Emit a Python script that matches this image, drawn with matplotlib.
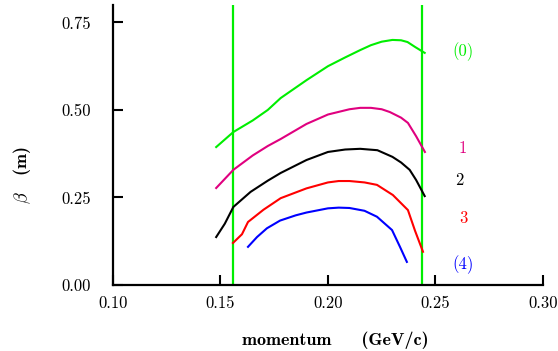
import matplotlib
matplotlib.use("Agg")
import matplotlib.pyplot as plt

plt.rcParams["font.family"] = ["cmr10", "DejaVu Serif"]
plt.rcParams["mathtext.fontset"] = "cm"
plt.rcParams["axes.formatter.use_mathtext"] = True

# beta functions vs momentum
p0 = [0.148, 0.156, 0.165, 0.172, 0.178, 0.190, 0.200, 0.208, 0.215, 0.220, 0.225, 0.230, 0.234, 0.237, 0.2405, 0.245]
b0 = [0.394, 0.437, 0.470, 0.500, 0.534, 0.585, 0.625, 0.650, 0.671, 0.685, 0.695, 0.700, 0.699, 0.694, 0.680, 0.663]

p1 = [0.148, 0.156, 0.165, 0.172, 0.178, 0.190, 0.200, 0.210, 0.215, 0.220, 0.225, 0.2288, 0.2340, 0.2372, 0.2410, 0.2451]
b1 = [0.277, 0.329, 0.370, 0.397, 0.417, 0.460, 0.487, 0.502, 0.506, 0.506, 0.502, 0.494, 0.478, 0.463, 0.425, 0.380]

p2 = [0.148, 0.152, 0.156, 0.164, 0.172, 0.178, 0.190, 0.200, 0.208, 0.215, 0.223, 0.230, 0.234, 0.238, 0.241, 0.245]
b2 = [0.137, 0.175, 0.223, 0.266, 0.298, 0.320, 0.357, 0.380, 0.387, 0.389, 0.385, 0.366, 0.350, 0.329, 0.300, 0.254]

p3 = [0.1558, 0.1600, 0.1628, 0.170, 0.178, 0.190, 0.200, 0.205, 0.210, 0.2170, 0.2228, 0.2302, 0.2372, 0.2405, 0.2442]
b3 = [0.120, 0.145, 0.180, 0.215, 0.248, 0.276, 0.293, 0.297, 0.297, 0.293, 0.286, 0.257, 0.214, 0.155, 0.095]

p4 = [0.1628, 0.1670, 0.1716, 0.1777, 0.185, 0.190, 0.200, 0.205, 0.210, 0.2170, 0.2228, 0.2298, 0.2335, 0.2367]
b4 = [0.109, 0.137, 0.162, 0.184, 0.199, 0.207, 0.219, 0.221, 0.220, 0.212, 0.195, 0.157, 0.109, 0.066]

momenta = [p0, p1, p2, p3, p4]
betas = [b0, b1, b2, b3, b4]
colors = ["#00ee00", "#e0007f", "black", "red", "blue"]
labels = ["(0)", "1", "2", "3", "(4)"]
label_pos = [(0.2628, 0.666), (0.2628, 0.391), (0.2610, 0.300), (0.2628, 0.191), (0.2628, 0.057)]

acceptance = [0.1558, 0.2437]

fig = plt.figure(figsize=(5.58, 3.51), dpi=100)
ax = fig.add_axes([0.2025, 0.188, 0.7705, 0.798])

for x in acceptance:
    ax.axvline(x, color="#00ee00", lw=1.6)

for p, b, c in zip(momenta, betas, colors):
    ax.plot(p, b, color=c, lw=1.5)

for (x, y), t, c in zip(label_pos, labels, colors):
    ax.text(x, y, t, color=c, fontsize=12, ha="center", va="center")

ax.set_xlim(0.10, 0.30)
ax.set_ylim(0.0, 0.80)
ax.set_xticks([0.10, 0.15, 0.20, 0.25, 0.30])
ax.set_xticklabels(["0.10", "0.15", "0.20", "0.25", "0.30"])
ax.set_yticks([0.0, 0.25, 0.50, 0.75])
ax.set_yticklabels(["0.00", "0.25", "0.50", "0.75"])
ax.tick_params(direction="in", width=1.5, length=7, labelsize=12)
ax.tick_params(axis="y", pad=16)
ax.tick_params(axis="x", pad=8)

for s in ["top", "right"]:
    ax.spines[s].set_visible(False)
for s in ["left", "bottom"]:
    ax.spines[s].set_linewidth(1.6)

fig.text(0.601, 0.03, "momentum     (GeV/c)", family="cmb10", fontsize=13,
         ha="center", va="center")
fig.text(0.04, 0.50, r"$\beta$   (m)", fontsize=13, rotation=90,
         ha="center", va="center", family="cmb10")

fig.savefig("out.png", dpi=100)
